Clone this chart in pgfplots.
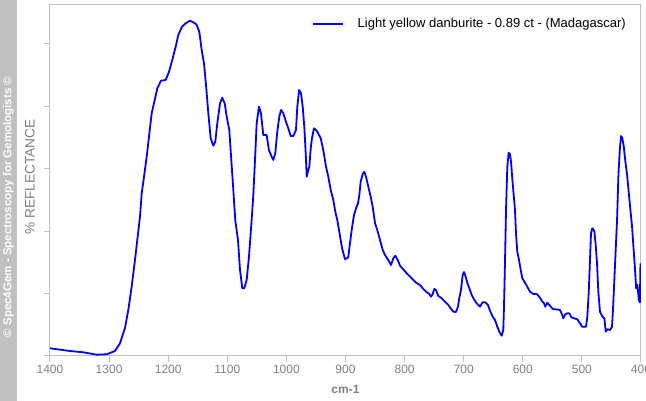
\documentclass[border=0pt]{standalone}
\usepackage{fontspec}
\setmainfont{Liberation Sans}
\usepackage{pgfplots}
\pgfplotsset{compat=1.18}
\definecolor{band}{RGB}{192,192,192}
\definecolor{axgrey}{RGB}{192,192,192}
\definecolor{txtgrey}{RGB}{128,128,128}
\definecolor{specblue}{RGB}{0,0,255}

\pgfplotstableread{
w y
1400 7.7
1366.2 5
1343.7 3.7
1321.0 1.3
1304.1 1.7
1290.0 5
1281.6 12.7
1273.1 28
1267.5 46
1261.8 69.3
1256.2 96
1252.3 116
1247.7 139.3
1244.8 162.7
1240.9 179.3
1236.4 199.3
1232.5 219.3
1227.9 242.7
1223.5 254.3
1218.4 267.7
1212.2 275.3
1204.2 276
1198.6 284.3
1193.1 296
1187.3 309.3
1182.9 321
1177.2 328.7
1170.4 332.7
1163.1 335.3
1156.3 333.3
1152.1 331.5
1147.4 324.3
1143.3 306
1139.4 292.7
1136.0 271
1132.1 242.7
1128.1 217.7
1123.7 210.3
1120.3 214.3
1116.9 232.7
1112.3 252.7
1108.5 258.3
1104.4 252.7
1101.0 239.3
1096.6 226
1093.2 196
1089.8 166
1086.5 136
1081.9 116
1078.5 86
1074.6 67.7
1071.3 67.7
1067.2 76
1063.3 99.3
1058.8 136
1056.1 159.3
1053.1 196
1050.3 232.7
1046.4 249.3
1043.0 242.7
1039.1 221
1033.4 221
1029.6 206
1024.9 199.3
1022.2 196
1018.8 202.7
1015.4 224.3
1012.0 239.3
1009.1 246
1005.2 242.7
1000.7 234.3
996.8 227.7
992.7 220
988.3 220
983.8 226
981.5 249.3
978.6 266
975.3 262.7
972.4 249.3
969.7 229.3
967.3 202.7
965.6 179.3
962.9 186
961.2 189.3
958.8 207.7
956.7 217.7
953.3 227.7
948.7 225.3
941.9 217.7
937.6 206
933.0 189.3
929.1 179.3
925.0 166
920.6 156
917.2 144.3
913.9 136
910.5 124.3
905.9 108
900.8 96.7
895.3 98.7
892.4 112.7
889.5 126
885.6 141
882.2 147.7
878.8 152.7
876.6 161
874.3 174.3
870.9 182
868.2 184.3
865.3 179.3
861.4 169.3
857.4 159.3
854.0 149.3
850.0 132.7
846.2 126
841.6 116
837.0 106
833.2 101
827.6 96
823.0 91
819.1 97.7
815.7 100.3
811.7 96
807.8 90.3
802.2 86.7
795.4 82
788.0 77.7
780.7 73.3
773.9 71
769.4 67.7
763.8 64.3
758.2 62
755.3 59.3
752.5 62
749.7 67
746.9 66
742.9 60
737.2 57.7
731.6 54.3
726.1 51
722.0 47.7
717.6 44.3
713.1 44
709.7 49.3
707.5 57.7
704.6 66
701.7 81
699.5 84
696.6 79.3
693.9 73.3
690.5 67.7
686.4 61
682.6 56.7
678.0 52.7
672.4 49.3
667.9 53.7
663.5 53.7
658.9 51
655.5 45.3
651.0 39.3
647.0 36
643.1 29.3
639.7 24.3
635.7 20.3
633.0 26
631.8 49.3
630.1 94.3
628.4 146
626.2 189.3
623.9 203.3
621.7 202
619.9 194.3
617.8 177.7
615.4 161
613.2 146
611.5 122.7
609.3 104.3
606.4 96
603.5 86
600.8 77.7
596.3 73.3
592.4 69.3
587.8 64.3
582.2 62
576.5 62
572.1 59.3
568.0 55.3
564.1 52.7
561.9 49.3
558.5 53.3
554.0 50.3
549.4 47
543.8 46.7
537.1 46
533.7 41.7
531.5 37.7
528.1 41.7
524.7 42.7
521.3 42.7
517.9 38.7
513.4 37.7
507.8 36.7
503.2 32.7
499.8 29.3
493.0 29.3
490.8 39.3
488.5 62.7
486.3 96
484.6 122.7
482.4 127.7
479.0 125
476.6 111
474.4 92.7
472.2 64.3
469.4 44.3
465.4 39.3
462.0 37.7
459.6 24.3
456.9 26.7
452.4 26
449.0 29.3
447.3 47.7
445.1 76
442.7 107.7
440.5 136
438.3 179.3
435.9 206
433.7 220
431.5 217.7
429.1 209.3
426.4 194.3
423.5 181
420.6 162.7
417.9 146
415.1 129.3
412.8 109.3
410.4 89.3
408.2 67.7
406.0 71
403.6 56
401.9 53.7
400.9 92.7
}\spectrum

\begin{document}
\begin{tikzpicture}[x=1pt,y=1pt]
\useasboundingbox (0,0) rectangle (646,401);
\fill[band] (0,0) rectangle (17,401);
\node[rotate=90, text=white, font=\fontsize{11.5}{13}\selectfont\bfseries, inner sep=0pt] at (8.5,194) {© Spec4Gem - Spectroscopy for Gemologists ©};
\node[rotate=90, text=txtgrey, font=\fontsize{13.7}{16}\selectfont, inner sep=0pt] at (30,224) {\% REFLECTANCE};
\begin{axis}[
  at={(50pt,45pt)}, anchor=south west,
  scale only axis, width=591pt, height=351.3pt,
  x dir=reverse, xmin=400, xmax=1400, ymin=0, ymax=351.3,
  xtick={400,500,...,1400},
  ytick={0,62.4,124.8,187.2,249.6,312},
  yticklabels={},
  tick align=outside, major tick length=6pt,
  xtick pos=bottom, ytick pos=left,
  axis line style={axgrey, line width=1pt},
  tick style={axgrey, line width=1pt},
  ticklabel style={text=txtgrey, font=\fontsize{12}{14}\selectfont},
  /pgf/number format/assume math mode=true,
  /pgf/number format/1000 sep={},
  xlabel={cm-1},
  xlabel style={font=\fontsize{12}{14}\selectfont\bfseries, text=txtgrey, at={(axis description cs:0.5,-0.094)}, anchor=center},
  legend style={at={(axis description cs:0.978,0.945)}, anchor=east, draw=none, fill=none, inner sep=0pt, font=\fontsize{13}{15}\selectfont},
  legend image code/.code={\draw[#1] (0pt,0pt) -- (30pt,0pt); \path (42pt,0pt);},
]
\addplot[specblue, line width=1.8pt, line join=round] table[x=w, y=y] {\spectrum};
\addlegendentry{Light yellow danburite - 0.89 ct - (Madagascar)}
\end{axis}
\end{tikzpicture}
\end{document}
